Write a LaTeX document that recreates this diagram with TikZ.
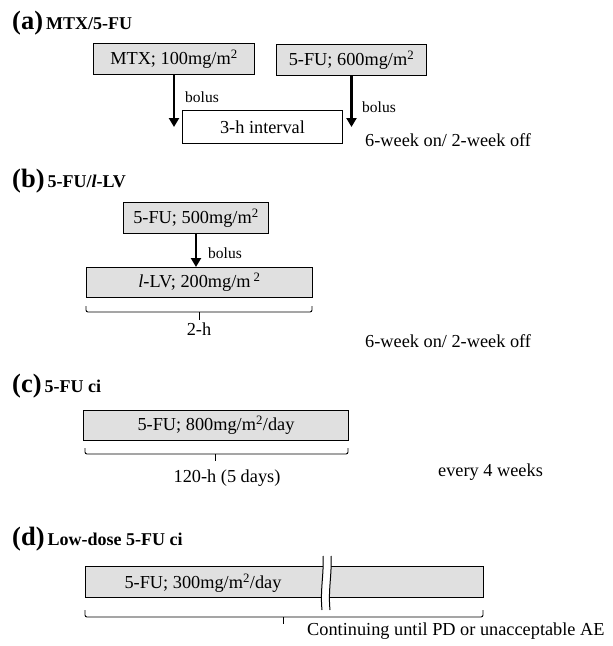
\documentclass[tikz,border=0pt]{standalone}
\usepackage{fontspec}
\setmainfont{Liberation Serif}
\usetikzlibrary{arrows.meta}
\definecolor{boxfill}{gray}{0.88}
\tikzset{
  maintxt/.style={font=\fontsize{18.3}{21}\selectfont, inner sep=0pt},
  smalltxt/.style={font=\fontsize{15.5}{18}\selectfont, inner sep=0pt, anchor=base west},
  titletxt/.style={font=\bfseries, inner sep=0pt, anchor=base west},
  drugbox/.style={draw, fill=boxfill, line width=1pt, anchor=north west, inner sep=0pt, font=\fontsize{18.3}{21}\selectfont},
  plainbox/.style={drugbox, fill=white},
  bolusarrow/.style={line width=2.6pt, -{Triangle[width=10pt,length=9pt]}},
  bracket/.style={line width=0.9pt, rounded corners=2pt},
}
\newcommand{\ttl}[2]{{\fontsize{26.5}{30}\selectfont #1}\hspace{3pt}{\fontsize{18}{21}\selectfont #2}}
\begin{document}
\begin{tikzpicture}[x=1pt,y=-1pt]
\useasboundingbox (0,0) rectangle (613,646);

% (a)
\node[titletxt] (ta) at (12,29) {\ttl{(a)}{MTX/5-FU}};
\node[drugbox, minimum width=161pt, minimum height=31pt] (mtx) at (93,43) {MTX; 100mg/m\textsuperscript{2}};
\node[drugbox, minimum width=150pt, minimum height=31pt] (fu600) at (276,44) {5-FU; 600mg/m\textsuperscript{2}};
\node[plainbox, minimum width=160pt, minimum height=33pt] (intv) at (182,110) {3-h interval};
\draw[bolusarrow] (mtx.south) -- (mtx.south |- intv.east);
\draw[bolusarrow] (fu600.south) -- (fu600.south |- intv.east);
\node[smalltxt] (b1) at (185,102) {bolus};
\node[smalltxt] (b2) at (362,112) {bolus};
\node[maintxt, anchor=base west] (sa) at (365,146) {6-week on/ 2-week off};

% (b)
\node[titletxt] (tb) at (12,187) {\ttl{(b)}{5-FU/\textit{l}-LV}};
\node[drugbox, minimum width=145pt, minimum height=31pt] (fu500) at (123,202) {5-FU; 500mg/m\textsuperscript{2}};
\node[drugbox, minimum width=226pt, minimum height=30pt] (llv) at (86,267) {\textit{l}-LV; 200mg/m\,\textsuperscript{2}\hspace{16pt}};
\draw[bolusarrow] (fu500.south) -- (fu500.south |- llv.north);
\node[smalltxt] (b3) at (208,258) {bolus};
\draw[bracket] (86,306) -- (86,312) -- (312,312) -- (312,306);
\draw[line width=0.9pt] (199,312) -- (199,320);
\node[maintxt, anchor=base] (lb) at (199,335) {2-h};
\node[maintxt, anchor=base west] (sb) at (365,347) {6-week on/ 2-week off};

% (c)
\node[titletxt] (tc) at (12,392) {\ttl{(c)}{5-FU ci}};
\node[drugbox, minimum width=265pt, minimum height=30pt] (fu800) at (83,410) {5-FU; 800mg/m\textsuperscript{2}/day};
\draw[bracket] (85,448) -- (85,454) -- (348,454) -- (348,448);
\draw[line width=0.9pt] (215,454) -- (215,461);
\node[maintxt, anchor=base] (lc) at (227,482) {120-h (5 days)};
\node[maintxt, anchor=base west] (sc) at (438,476) {every 4 weeks};

% (d)
\node[titletxt] (td) at (12,545) {\ttl{(d)}{Low-dose 5-FU ci}};
\fill[boxfill] (85,566) rectangle (483,597);
\draw[line width=1pt] (323,566) -- (85,566) -- (85,597) -- (322,597);
\draw[line width=1pt] (331,566) -- (483,566) -- (483,597) -- (330,597);
\fill[white] (323,556) .. controls (324,575) and (320,590) .. (322,610) -- (330,610) .. controls (328,590) and (332,575) .. (331,556) -- cycle;
\draw[line width=1pt] (323,556) .. controls (324,575) and (320,590) .. (322,610);
\draw[line width=1pt] (331,556) .. controls (332,575) and (328,590) .. (330,610);
\node[maintxt] (fu300) at (203,583) {5-FU; 300mg/m\textsuperscript{2}/day};
\draw[bracket] (85,610) -- (85,617) -- (483,617) -- (483,610);
\draw[line width=0.9pt] (283,617) -- (283,624);
\node[maintxt, anchor=base west] (ld) at (307,635) {Continuing until PD or unacceptable AE};
\end{tikzpicture}
\end{document}
